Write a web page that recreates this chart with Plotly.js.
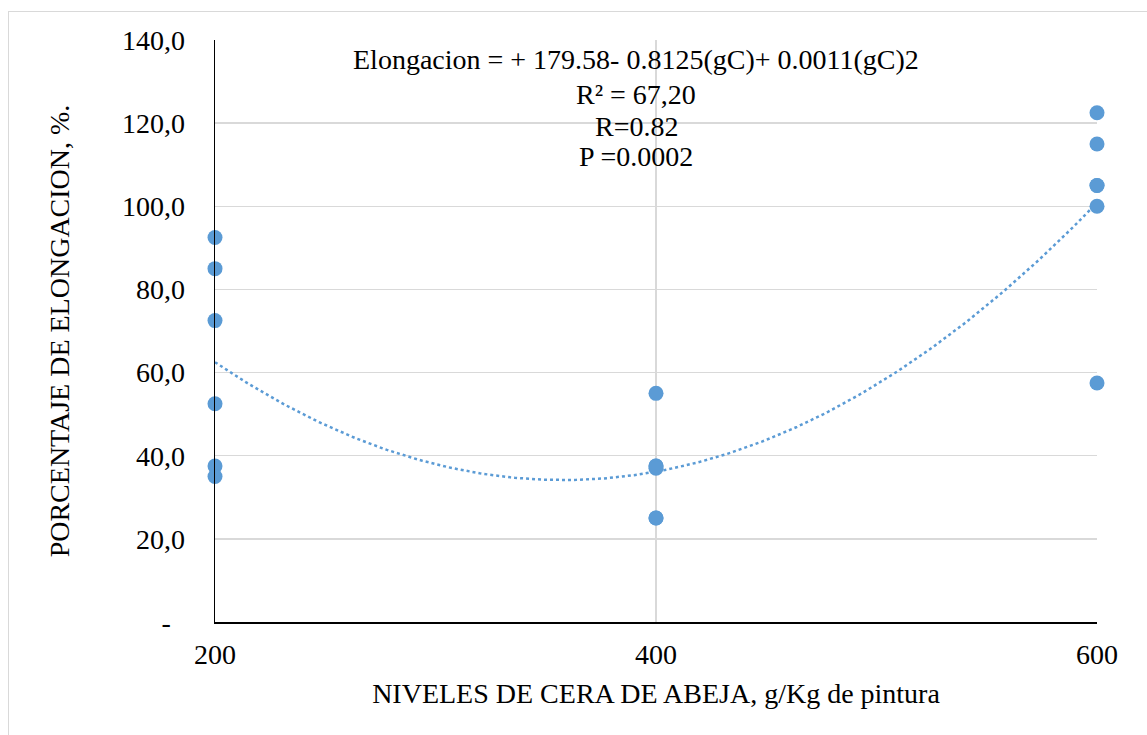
<!DOCTYPE html>
<html>
<head>
<meta charset="utf-8">
<script src="https://cdn.plot.ly/plotly-3.0.1.min.js"></script>
<style>
  html, body { margin: 0; padding: 0; background: #fff; }
  #wrap { position: relative; width: 1147px; height: 735px; overflow: hidden; }
  #frame { position: absolute; left: 8px; top: 11px; width: 1160px; height: 760px; border: 1px solid #d9d9d9; box-sizing: border-box; pointer-events: none; }
  #chart { position: absolute; left: 0; top: 0; width: 1147px; height: 735px; }
</style>
</head>
<body>
<div id="wrap">
  <div id="chart"></div>
  <div id="frame"></div>
</div>
<script>
// Data
const levels200 = [92.5, 85, 72.5, 52.5, 37.5, 35];
const levels400 = [55, 37.5, 37.5, 37, 25, 25];
const levels600 = [122.5, 115, 105, 105, 100, 57.5];
const xLevels = [200, 400, 600];

const yTickVals = [0, 20, 40, 60, 80, 100, 120, 140];
const yTickText = ['-\u00a0\u00a0', '20,0', '40,0', '60,0', '80,0', '100,0', '120,0', '140,0'];
const xTickVals = [200, 400, 600];
const xTickText = ['200', '400', '600'];

const annotationLines = [
  'Elongacion = + 179.58- 0.8125(gC)+ 0.0011(gC)2',
  'R² = 67,20',
  'R=0.82',
  'P =0.0002'
];

// Build point arrays
const groups = [levels200, levels400, levels600];
const xs = [], ys = [];
groups.forEach((g, i) => g.forEach(v => { xs.push(xLevels[i]); ys.push(v); }));

// Least-squares quadratic trendline computed from the data (like Excel's polynomial trendline)
function polyfit2(x, y) {
  let n = x.length, s = [0,0,0,0,0], t = [0,0,0];
  for (let i = 0; i < n; i++) {
    let p = 1;
    for (let k = 0; k < 5; k++) { s[k] += p; if (k < 3) t[k] += p * y[i]; p *= x[i]; }
  }
  const A = [[s[0], s[1], s[2], t[0]], [s[1], s[2], s[3], t[1]], [s[2], s[3], s[4], t[2]]];
  for (let c = 0; c < 3; c++) {
    let piv = c;
    for (let r = c + 1; r < 3; r++) if (Math.abs(A[r][c]) > Math.abs(A[piv][c])) piv = r;
    [A[c], A[piv]] = [A[piv], A[c]];
    for (let r = 0; r < 3; r++) {
      if (r === c) continue;
      const f = A[r][c] / A[c][c];
      for (let k = c; k < 4; k++) A[r][k] -= f * A[c][k];
    }
  }
  return [A[0][3] / A[0][0], A[1][3] / A[1][1], A[2][3] / A[2][2]];
}
const coef = polyfit2(xs, ys);
const tx = [], ty = [];
for (let x = 200; x <= 600; x += 2) { tx.push(x); ty.push(coef[0] + coef[1] * x + coef[2] * x * x); }

const blue = '#5b9bd5';
const font = { family: 'Liberation Serif, Times New Roman, serif', color: '#000', size: 28 };

const traces = [
  { x: tx, y: ty, type: 'scatter', mode: 'lines', line: { color: blue, width: 2.5, dash: 'dot' }, hoverinfo: 'skip', cliponaxis: false },
  { x: xs, y: ys, type: 'scatter', mode: 'markers', marker: { color: blue, size: 15 }, cliponaxis: false }
];

const lineY = [60, 94, 126, 157];
const annotations = annotationLines.map((t, i) => ({
  text: t, xref: 'paper', yref: 'paper', x: (636 - 215) / 882, y: (622 - lineY[i]) / 582,
  xanchor: 'center', yanchor: 'middle', showarrow: false, font: font
}));

const layout = {
  width: 1147, height: 735,
  margin: { l: 215, r: 50, t: 40, b: 113 },
  paper_bgcolor: '#fff', plot_bgcolor: '#fff',
  showlegend: false,
  font: font,
  xaxis: {
    range: [200, 600], tickvals: xTickVals, ticktext: xTickText,
    showgrid: true, gridcolor: '#d9d9d9', gridwidth: 1.5,
    showline: true, linecolor: '#000', linewidth: 1.5, zeroline: false,
    ticks: '', ticklabelstandoff: 7, tickfont: font,
    title: { text: 'NIVELES DE CERA DE ABEJA, g/Kg de pintura', font: font, standoff: 14 }
  },
  yaxis: {
    range: [0, 140], tickvals: yTickVals, ticktext: yTickText,
    showgrid: true, gridcolor: '#d9d9d9', gridwidth: 1.5,
    showline: true, linecolor: '#000', linewidth: 1.5, zeroline: false,
    ticks: '', ticklabelstandoff: 23, tickfont: font,
    title: { text: 'PORCENTAJE DE ELONGACION, %.', font: font, standoff: 44 }
  },
  annotations: annotations
};

Plotly.newPlot('chart', traces, layout, { displayModeBar: false, staticPlot: true });
</script>
</body>
</html>
